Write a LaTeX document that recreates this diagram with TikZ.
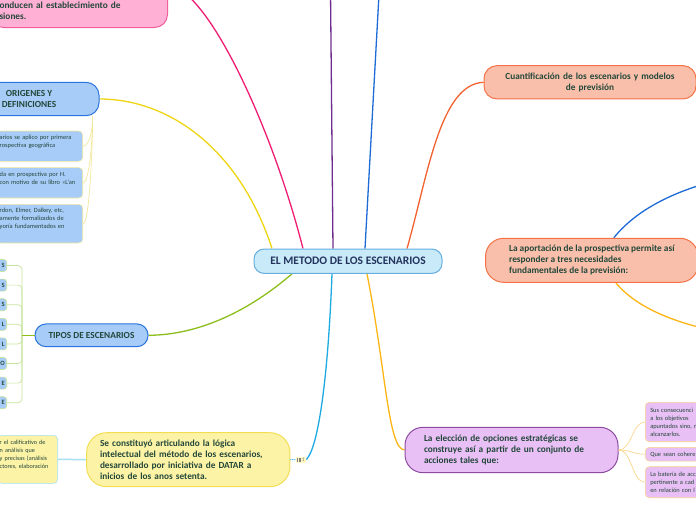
\documentclass[tikz,border=0pt]{standalone}
\usepackage{fontspec}
\setmainfont{Carlito}
\usetikzlibrary{positioning, backgrounds}
\usepackage{xcolor}

\definecolor{texto}{HTML}{22473A}
\definecolor{textocentro}{HTML}{23335E}
\definecolor{fondocentro}{HTML}{C9EAF8}
\definecolor{bordecentro}{HTML}{64AEE0}
\definecolor{fondoazul}{HTML}{A8CCF8}
\definecolor{bordeazul}{HTML}{2873DD}
\definecolor{fondorosa}{HTML}{FFB0D4}
\definecolor{borderosa}{HTML}{F0609F}
\definecolor{fondosalmon}{HTML}{F9BFAA}
\definecolor{bordesalmon}{HTML}{F47245}
\definecolor{fondolila}{HTML}{E9C0F5}
\definecolor{bordelila}{HTML}{8E4CA0}
\definecolor{fondoamarillo}{HTML}{FDF3A6}
\definecolor{bordeamarillo}{HTML}{F3DD55}
\definecolor{amarillo}{HTML}{EED511}
\definecolor{amarillopalido}{HTML}{F3E79B}
\definecolor{rosa}{HTML}{EE1D73}
\definecolor{morado}{HTML}{6E2C8E}
\definecolor{azul}{HTML}{1F6BD6}
\definecolor{naranja}{HTML}{F26130}
\definecolor{verde}{HTML}{8CBE1B}
\definecolor{verdepalido}{HTML}{C5E39A}
\definecolor{cian}{HTML}{1DA9E1}
\definecolor{cianpalido}{HTML}{A6E0F2}
\definecolor{ambar}{HTML}{FDB515}
\definecolor{ambarpalido}{HTML}{FAD48C}

\begin{document}
\begin{tikzpicture}[x=1pt, y=-1pt]
\tikzstyle{centro} = [rectangle, rounded corners=10pt, draw=bordecentro, fill=fondocentro,
    line width=1pt, inner sep=0pt, text=textocentro, font=\fontsize{11.5}{13}\selectfont\bfseries]
\tikzstyle{rama} = [rectangle, rounded corners=13pt, line width=1pt, inner sep=0pt,
    text=texto, font=\fontsize{9.3}{11}\selectfont\bfseries]
\tikzstyle{hoja} = [rectangle, rounded corners=4pt, line width=0.6pt, inner ysep=0pt,
    text=texto, align=left, font=\fontsize{6.4}{8}\selectfont]
\tikzstyle{line} = [draw, line width=1.3pt]
\tikzstyle{fina} = [draw, line width=0.7pt]

\useasboundingbox (0,0) rectangle (696,520);

% centro
\node (metodo) [centro, minimum width=188pt, minimum height=24.3pt] at (348,261.2) {EL METODO DE LOS ESCENARIOS};

% ramas izquierda
\node (conducen) [rama, draw=borderosa, fill=fondorosa, anchor=south east, align=left,
    text width=159pt, inner xsep=9pt, inner ysep=4pt, text height=60pt, text depth=15.5pt]
    at (168,28) {onducen al establecimiento de\\siones.};
\node (origenes) [rama, draw=bordeazul, fill=fondoazul, align=center,
    minimum width=140pt, minimum height=33.4pt] at (29,99) {ORIGENES Y\\DEFINICIONES};
\node (tipos) [rama, draw=bordeazul, fill=fondoazul, rounded corners=11pt,
    minimum width=113pt, minimum height=22.7pt] at (91.5,335.3) {TIPOS DE ESCENARIOS};
\node (datar) [rama, draw=bordeamarillo, fill=fondoamarillo, align=left, text width=176.6pt,
    minimum width=203.3pt, minimum height=54pt, rounded corners=20pt] at (188.3,459.7)
    {Se constituyó articulando la lógica\\intelectual del método de los escenarios,\\desarrollado por iniciativa de DATAR a\\inicios de los anos setenta.};
\node (insignia) [rectangle, fill=fondoamarillo!70, inner xsep=1.5pt, inner ysep=1pt,
    text=gray, font=\fontsize{5.5}{6}\selectfont] at (301,459.5)
    {\rule{0.6pt}{4pt}\,\rule{0.6pt}{4pt}\,\rule{0.6pt}{4pt}\,1};

% ramas derecha
\node (cuantif) [rama, draw=bordesalmon, fill=fondosalmon, align=center, text width=190pt,
    minimum width=212pt, minimum height=33.3pt] at (590,82.3)
    {Cuantificación de los escenarios y modelos\\de previsión};
\node (aporte) [rama, draw=bordesalmon, fill=fondosalmon, align=left,
    minimum width=212.5pt, minimum height=44pt, rounded corners=18pt] at (591.8,260.3)
    {La aportación de la prospectiva permite así\\responder a tres necesidades\\fundamentales de la previsión:};
\node (eleccion) [rama, draw=bordelila, fill=fondolila, align=left, text width=175pt,
    minimum width=213pt, minimum height=45.4pt, rounded corners=18pt] at (511.5,450)
    {La elección de opciones estratégicas se\\construye así a partir de un conjunto de\\acciones tales que:};

% hojas de origenes
\node (origen1) [hoja, draw=amarillopalido, fill=fondoazul, anchor=north east, text width=80pt,
    inner xsep=3pt, text height=8.8pt, text depth=21.5pt] at (83,130.7)
    {arios se aplico por primera\\rospectiva geográfica};
\node (origen2) [hoja, draw=amarillopalido, fill=fondoazul, anchor=north east, text width=80pt,
    inner xsep=3pt, text height=8.7pt, text depth=21.7pt] at (83,167.3)
    {da en prospectiva por H.\\con motivo de su libro «L'an};
\node (origen3) [hoja, draw=amarillopalido, fill=fondoazul, anchor=north east, text width=80pt,
    inner xsep=3pt, text height=8.5pt, text depth=30.2pt] at (83,204)
    {rdon, Elmer, Dalkey, etc,\\amente formalizados de\\yoría fundamentados en};

% hojas de tipos
\coordinate (tronco) at (22,335.3);
\foreach \letra [count=\i] in {S,S,S,L,L,O,E,E}
  \node (tipo\i) [hoja, draw=verdepalido, fill=fondoazul, anchor=east, align=right, text width=20pt,
      inner xsep=2pt, minimum height=12pt, rounded corners=3pt, font=\fontsize{6.5}{7}\selectfont\bfseries]
      at (7,{265.5+19.6*(\i-1)}) {\letra};

% hoja de datar
\node (calificativo) [hoja, draw=cianpalido, fill=fondoamarillo, anchor=north east, text width=56pt,
    inner xsep=2pt, text height=9.5pt, text depth=38.5pt, font=\fontsize{6.2}{8}\selectfont] at (58,435)
    {r el calificativo de\\n análisis que\\y precisas (análisis\\ctores, elaboración};

% hojas de eleccion
\node (accion1) [hoja, draw=ambarpalido, fill=fondolila, anchor=west, text width=60pt,
    inner xsep=5pt, minimum height=39.4pt] at (645,422)
    {Sus consecuenci\\a los objetivos\\apuntados sino, r\\alcanzarlos.};
\node (accion2) [hoja, draw=ambarpalido, fill=fondolila, anchor=west, text width=60pt,
    inner xsep=5pt, minimum height=13.7pt] at (645,454.2) {Que sean cohere};
\node (accion3) [hoja, draw=ambarpalido, fill=fondolila, anchor=west, text width=60pt,
    inner xsep=5pt, minimum height=31pt] at (645,482.2)
    {La batería de acc\\pertinente a cad\\en relación con l};

% ramas fuera de la imagen
\coordinate (arriba1) at (330,-60);
\coordinate (arriba2) at (382,-60);
\coordinate (necesidad1) at (760,172);
\coordinate (necesidad2) at (760,338);

\begin{pgfonlayer}{background}
\path[line, amarillo] ([xshift=-76pt]metodo.north) .. controls (240,150) and (170,99) .. (origenes.east);
\path[line, rosa] ([xshift=-45pt]metodo.north) .. controls (270,120) and (205,-14) .. (conducen.east);
\path[line, morado] ([xshift=-15pt]metodo.north) -- (arriba1);
\path[line, azul] ([xshift=17pt]metodo.north) -- (arriba2);
\path[line, naranja] ([xshift=59pt]metodo.north) .. controls (428,175) and (440,84) .. (cuantif.west);
\path[line, verde] ([xshift=-56pt]metodo.south) .. controls (250,310) and (200,335) .. (tipos.east);
\path[line, cian] ([xshift=-16pt]metodo.south) .. controls (328,380) and (318,448) .. (insignia.east);
\path[line, ambar] ([xshift=19pt]metodo.south) .. controls (386,370) and (388,449) .. (eleccion.west);
\path[line, azul] ([xshift=22pt]aporte.north) .. controls (640,205) and (690,182) .. (necesidad1);
\path[line, ambar] ([xshift=24pt]aporte.south) .. controls (640,312) and (690,330) .. (necesidad2);
\end{pgfonlayer}

\path[fina, amarillopalido] (origen1.east) .. controls (90,146) and (93,128) .. ([xshift=-7pt]origenes.south east);
\path[fina, amarillopalido] (origen2.east) .. controls (90,183) and (93,130) .. ([xshift=-7pt]origenes.south east);
\path[fina, amarillopalido] (origen3.east) .. controls (90,225) and (93,132) .. ([xshift=-7pt]origenes.south east);

\foreach \i in {1,...,8}
  \path[fina, verdepalido, rounded corners=4pt] (tipo\i.east) -- (tipo\i.east -| tronco) -- (tronco);
\path[line, verde, line width=1pt] (tronco) -- (tipos.west);

\path[line, cianpalido, line width=1.5pt] (calificativo.east) -- (datar.west);
\path[draw, cian, densely dotted, line width=1pt] (datar.east) -- (insignia.west);

\foreach \i/\y in {1/422,2/454.2,3/482.2}
  \path[fina, ambarpalido] (eleccion.east) .. controls (632,450) and (632,\y) .. (accion\i.west);
\end{tikzpicture}
\end{document}
